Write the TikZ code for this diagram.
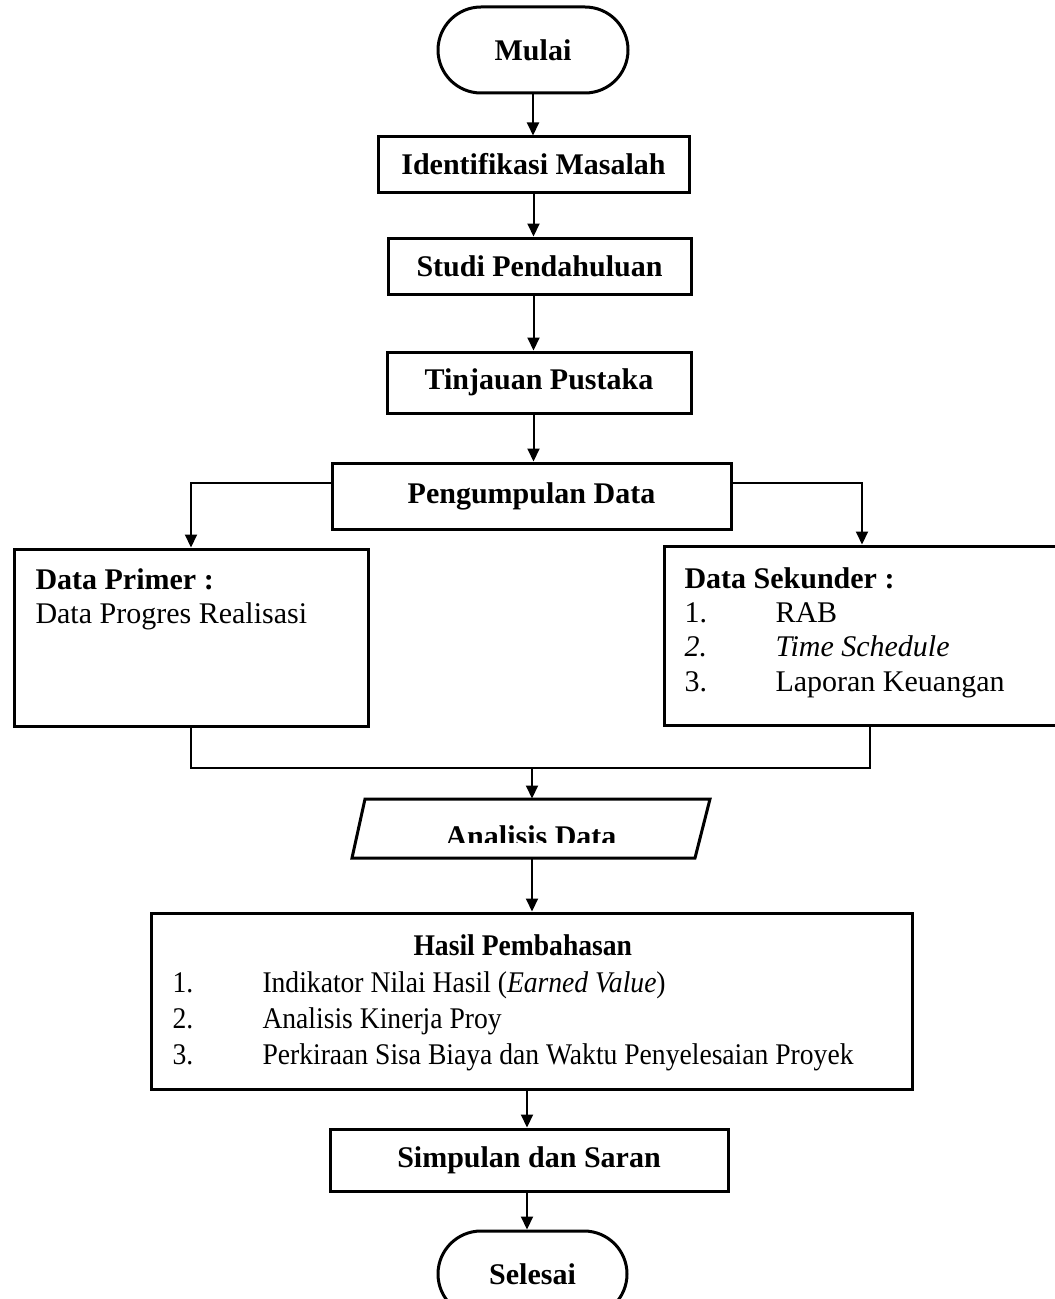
\documentclass[tikz,border=0pt]{standalone}
\usepackage{fontspec}
\setmainfont{Liberation Serif}
\usepackage{graphicx}
\usetikzlibrary{arrows.meta,calc}
\begin{document}
\begin{tikzpicture}[x=0.4pt,y=-0.4pt,
  basefont/.style={font=\fontsize{12pt}{14pt}\selectfont},
  boxnode/.style={draw, line width=1.2pt, inner sep=0pt, font=\fontsize{12pt}{14pt}\selectfont\bfseries},
  termnode/.style={boxnode, rounded corners=17.2pt},
  ghost/.style={inner sep=0pt},
  arr/.style={line width=0.8pt, -{Triangle[length=5.2pt,width=4.8pt]}},
  thinline/.style={line width=0.6pt},
  txt/.style={inner sep=0pt, anchor=base west, font=\fontsize{12pt}{14pt}\selectfont},
  btxt/.style={txt, font=\fontsize{12pt}{14pt}\selectfont\bfseries}
]
\useasboundingbox (0,0) rectangle (1054,1299);

% main column
\node[termnode, minimum width=190*0.4pt, minimum height=86*0.4pt] (mulai) at (533,50) {Mulai};
\node[boxnode, minimum width=311*0.4pt, minimum height=55*0.4pt] (idm) at (533.5,164.5) {Identifikasi Masalah};
\node[boxnode, minimum width=303*0.4pt, minimum height=56*0.4pt] (studi) at (539.5,266) {Studi Pendahuluan};
\node[boxnode, minimum width=304*0.4pt, minimum height=61*0.4pt] (tinjauan) at (539,382.5) {Tinjauan Pustaka};
\node[boxnode, minimum width=399*0.4pt, minimum height=66*0.4pt] (kumpul) at (531.5,496) {Pengumpulan Data};

% data boxes
\node[boxnode, minimum width=354*0.4pt, minimum height=177*0.4pt] (primer) at (191,637.5) {};
\node[btxt] at (35,589) {Data Primer :};
\node[txt] at (35,623) {Data Progres Realisasi};

\node[boxnode, minimum width=396*0.4pt, minimum height=179*0.4pt] (sekunder) at (862,635.5) {};
\node[btxt] at (684,588) {Data Sekunder :};
\node[txt] at (684,622) {1.};
\node[txt] at (775,622) {RAB};
\node[txt] at (684,656) {\itshape 2.};
\node[txt] at (775,656) {\itshape Time Schedule};
\node[txt] at (684,691) {3.};
\node[txt] at (775,691) {Laporan Keuangan};

% analisis data (parallelogram)
\node[ghost, minimum width=345*0.4pt, minimum height=59*0.4pt] (analisis) at (530.5,828.5) {};
\draw[line width=1.2pt, line join=miter] (365,799) -- (710,799) -- (695,858) -- (352,858) -- cycle;
\begin{scope}
  \clip (340,790) rectangle (720,842);
  \node[btxt, anchor=base] at (531,846) {Analisis Data};
\end{scope}

% hasil pembahasan
\node[boxnode, minimum width=761*0.4pt, minimum height=176*0.4pt] (hasil) at (531.5,1001) {};
\node[btxt] at (413,955) {\scalebox{0.92}[1]{Hasil Pembahasan}};
\node[txt] at (172,992) {\scalebox{0.92}[1]{1.}};
\node[txt] at (262,992) {\scalebox{0.92}[1]{Indikator Nilai Hasil (\textit{Earned Value})}};
\node[txt] at (172,1028) {\scalebox{0.92}[1]{2.}};
\node[txt] at (262,1028) {\scalebox{0.92}[1]{Analisis Kinerja Proy}};
\node[txt] at (172,1064) {\scalebox{0.92}[1]{3.}};
\node[txt] at (262,1064) {\scalebox{0.92}[1]{Perkiraan Sisa Biaya dan Waktu Penyelesaian Proyek}};

\node[boxnode, minimum width=398*0.4pt, minimum height=62*0.4pt] (simpulan) at (529,1160) {Simpulan dan Saran};
\node[termnode, minimum width=189*0.4pt, minimum height=86*0.4pt] (selesai) at (532.5,1274) {Selesai};

% connectors
\draw[arr] (mulai.south) -- (mulai.south |- idm.north);
\draw[arr] (idm.south) -- (idm.south |- studi.north);
\draw[arr] (studi.south -| idm.south) -- (tinjauan.north -| idm.south);
\draw[arr] (tinjauan.south -| idm.south) -- (kumpul.north -| idm.south);

\draw[arr] ($(kumpul.west)+(0,-13)$) -| (primer.north);
\draw[arr] ($(kumpul.east)+(0,-13)$) -| (sekunder.north);

\coordinate (merge) at (532,768);
\coordinate (sekR) at ($(sekunder.south)+(8,0)$);
\draw[thinline] (primer.south) -- (primer.south |- merge) -- (merge -| sekR) -- (sekR);
\draw[arr] (merge) -- (merge |- analisis.north);

\draw[arr] (merge |- analisis.south) -- (merge |- hasil.north);
\draw[arr] (hasil.south -| simpulan.north) ++(-2,0) -- ($(simpulan.north)+(-2,0)$);
\draw[arr] ($(simpulan.south)+(-2,0)$) -- ($(selesai.north)+(-5.5,0)$);
\end{tikzpicture}
\end{document}
